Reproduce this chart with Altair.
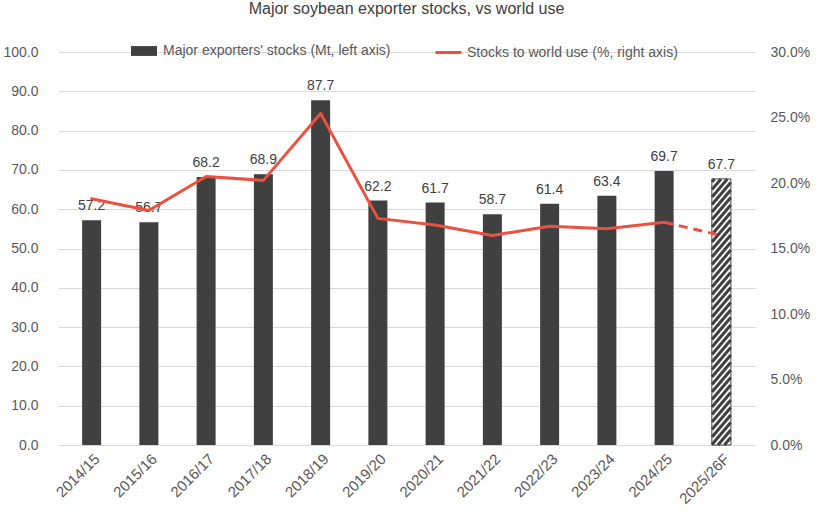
import altair as alt
import pandas as pd

# Marketing years, exporter stocks (Mt) and stocks-to-use ratio (%)
seasons = ["2014/15", "2015/16", "2016/17", "2017/18", "2018/19", "2019/20",
           "2020/21", "2021/22", "2022/23", "2023/24", "2024/25", "2025/26F"]
stocks_mt = [57.2, 56.7, 68.2, 68.9, 87.7, 62.2, 61.7, 58.7, 61.4, 63.4, 69.7, 67.7]
stocks_to_use = [18.8, 17.9, 20.5, 20.2, 25.3, 17.3, 16.8, 16.0, 16.7, 16.5, 17.0, 16.0]

BAR_NAME = "Major exporters' stocks (Mt, left axis)"
LINE_NAME = "Stocks to world use (%, right axis)"
FORECAST = len(seasons) - 1

W, H = 697, 393
FONT = "Liberation Sans"
DARK = "#404040"
RED = "#EE5040"
GRID = "#D9D9D9"

df = pd.DataFrame({
    "idx": list(range(len(seasons))),
    "season": seasons,
    "stocks": stocks_mt,
    "ratio": [v / 100 for v in stocks_to_use],
    "label": [f"{v:.1f}" for v in stocks_mt],
})
df["bar"] = BAR_NAME
df["line"] = LINE_NAME
df["forecast"] = df["idx"] == FORECAST

actual = df[~df["forecast"]]
forecast = df[df["forecast"]]
line_solid = df[df["idx"] <= FORECAST - 1]
line_dash = df[df["idx"] >= FORECAST - 1]

# Diagonal hatching inside the forecast bar, clipped to the bar's extent
half_w = 9.5 / (W / len(seasons))      # half bar width in x units
rise = 22 / (H / 100)                   # stripe rise across the bar, y units
period = 7.5 / (H / 100)                # vertical spacing between stripes
top = forecast["stocks"].iloc[0]
xl = FORECAST - half_w
rows = []
y0 = -rise
while y0 < top:
    t0 = max(0.0, (0 - y0) / rise)
    t1 = min(1.0, (top - y0) / rise)
    if t1 > t0:
        rows.append({"x": xl + 2 * half_w * t0, "x2": xl + 2 * half_w * t1,
                     "y": y0 + rise * t0, "y2": y0 + rise * t1})
    y0 += period
hatch = pd.DataFrame(rows)

label_expr = "[" + ",".join(f"'{s}'" for s in seasons) + "][datum.value]"
x_scale = alt.Scale(domain=[-0.5, len(seasons) - 0.5], nice=False, zero=False)
x_axis = alt.Axis(values=list(range(len(seasons))), labelExpr=label_expr,
                  labelAngle=-45, labelFontSize=15, labelColor="#595959",
                  labelFont=FONT, grid=False, ticks=False, domain=False,
                  labelPadding=6, title=None)
left_axis = alt.Axis(values=list(range(0, 101, 10)), format=".1f",
                     labelFontSize=14, labelColor="#595959", labelFont=FONT,
                     grid=True, gridColor=GRID, ticks=False, domain=False,
                     labelPadding=20, title=None)
right_axis = alt.Axis(orient="right", values=[0, 0.05, 0.1, 0.15, 0.2, 0.25, 0.3],
                      format=".1%", labelFontSize=14, labelColor="#595959",
                      labelFont=FONT, grid=False, ticks=False, domain=False,
                      labelPadding=15, title=None)

left_scale = alt.Scale(domain=[0, 100], nice=False)
right_scale = alt.Scale(domain=[0, 0.3], nice=False)


def x_enc(field):
    return alt.X(f"{field}:Q", scale=x_scale, axis=x_axis)


def y_left(field):
    return alt.Y(f"{field}:Q", scale=left_scale, axis=left_axis)


def y_right(field):
    return alt.Y(f"{field}:Q", scale=right_scale, axis=right_axis)


bars = alt.Chart(actual).mark_bar(size=19).encode(
    x=x_enc("idx"),
    y=y_left("stocks"),
    fill=alt.Fill("bar:N", scale=alt.Scale(domain=[BAR_NAME], range=[DARK]),
                  legend=alt.Legend(orient="none", legendX=73, legendY=-14,
                                    title=None, labelFontSize=14, labelFont=FONT,
                                    labelColor="#595959", labelLimit=0,
                                    symbolType="M-1,-0.38H1V0.38H-1Z",
                                    symbolSize=676, symbolStrokeWidth=0,
                                    labelOffset=6)),
)

forecast_bar = alt.Chart(forecast).mark_bar(
    size=19, fill="white", stroke=DARK, strokeWidth=1
).encode(x=x_enc("idx"), y=y_left("stocks"))

hatch_lines = alt.Chart(hatch).mark_rule(color=DARK, strokeWidth=3).encode(
    x=x_enc("x"), x2="x2:Q", y=y_left("y"), y2="y2:Q",
)

labels = alt.Chart(df).mark_text(
    baseline="bottom", dy=-7, fontSize=14, font=FONT, color=DARK
).encode(x=x_enc("idx"), y=y_left("stocks"), text="label:N")

ratio_solid = alt.Chart(line_solid).mark_line(
    strokeWidth=3, strokeJoin="round", strokeCap="round"
).encode(
    x=x_enc("idx"),
    y=y_right("ratio"),
    stroke=alt.Stroke("line:N", scale=alt.Scale(domain=[LINE_NAME], range=[RED]),
                      legend=alt.Legend(orient="none", legendX=376, legendY=-14,
                                        title=None, labelFontSize=14, labelFont=FONT,
                                        labelColor="#595959", labelLimit=0,
                                        symbolType="stroke",
                                        symbolSize=676, symbolStrokeWidth=3,
                                        labelOffset=4)),
)

ratio_dash = alt.Chart(line_dash).mark_line(
    strokeWidth=3, strokeDash=[9, 6], color=RED
).encode(x=x_enc("idx"), y=y_right("ratio"))

# Stocks on the left scale, stocks-to-use ratio on the right scale
left_group = alt.layer(bars, forecast_bar, hatch_lines, labels)
right_group = alt.layer(ratio_solid, ratio_dash)

chart = alt.layer(left_group, right_group).resolve_scale(
    y="independent", fill="independent", stroke="independent"
).properties(
    width=W, height=H,
    title=alt.TitleParams("Major soybean exporter stocks, vs world use",
                          fontSize=16, font=FONT, color=DARK, fontWeight="normal",
                          anchor="middle", offset=21),
    autosize=alt.AutoSizeParams(type="none"),
    padding={"left": 58, "top": 52, "right": 67, "bottom": 68},
).configure(
    background="white"
).configure_view(
    stroke="transparent", strokeWidth=0
).configure_axis(
    domain=False, ticks=False, gridColor=GRID
)

chart.save("out.html", embed_options={"renderer": "svg", "actions": False})
